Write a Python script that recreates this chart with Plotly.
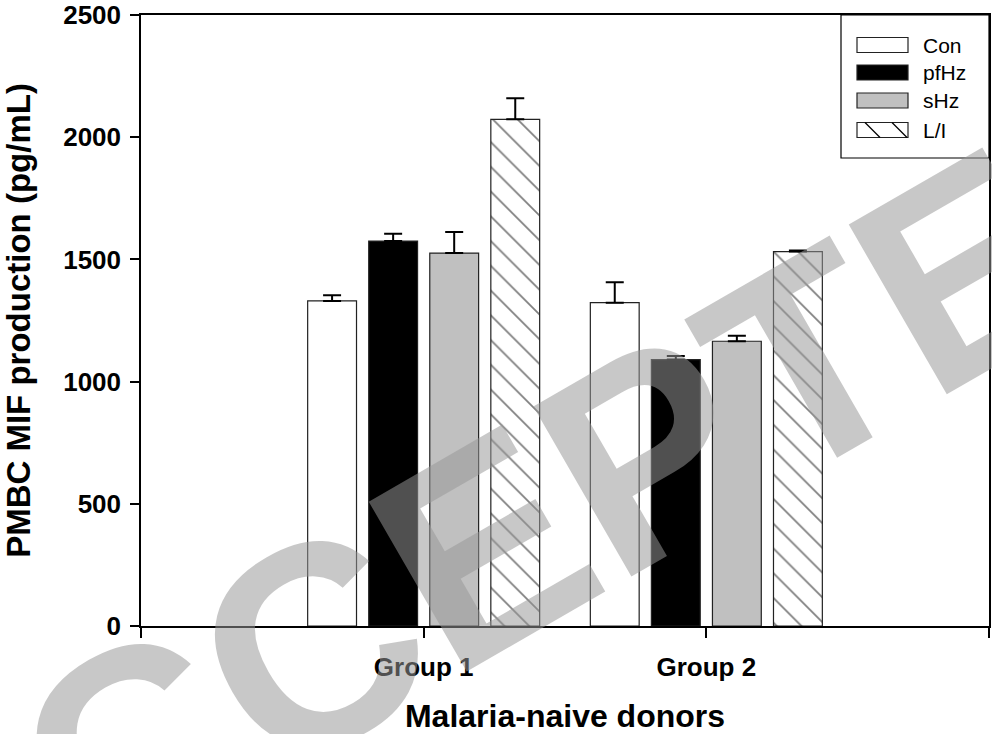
import plotly.graph_objects as go

# ---- data ----
groups = ["Group 1", "Group 2"]
group_pos = [1, 2]
series = ["Con", "pfHz", "sHz", "L/I"]
con = [1330, 1323]
con_err = [23, 83]
pfhz = [1575, 1090]
pfhz_err = [30, 15]
shz = [1526, 1165]
shz_err = [86, 23]
li = [2073, 1532]
li_err = [86, 4]
y_ticks = [0, 500, 1000, 1500, 2000, 2500]

W, H = 992, 734
L, R, T, B = 141, 989, 15, 626


def px(xp):
    return (xp - L) / (R - L)


def py(yp):
    return (B - yp) / (B - T)


FONT = "Liberation Sans, Arial, Helvetica, sans-serif"
outline = dict(color="#222222", width=1.2)
err_style = dict(type="data", symmetric=False, color="black", thickness=2, width=9)

fig = go.Figure()
values = [con, pfhz, shz, li]
errs = [con_err, pfhz_err, shz_err, li_err]
fills = ["white", "black", "#c0c0c0", "white"]
for name, v, e, fc in zip(series, values, errs, fills):
    marker = dict(color=fc, line=outline)
    if name == "L/I":
        marker["pattern"] = dict(shape="\\", size=17.5, solidity=0.1,
                                 fgcolor="black", bgcolor="white", fillmode="overlay")
    fig.add_trace(go.Bar(
        x=group_pos, y=v, name=name, marker=marker,
        error_y=dict(array=e, arrayminus=[0] * len(e), **err_style),
        showlegend=False,
    ))

fig.update_layout(
    width=W, height=H,
    margin=dict(l=L, r=W - R, t=T, b=H - B, autoexpand=False),
    paper_bgcolor="white", plot_bgcolor="white",
    barmode="group", bargap=0.136, bargroupgap=0.2,
    font=dict(family=FONT, color="black"),
)
fig.update_xaxes(
    range=[0, 3], tickvals=[0, 1, 2, 3], ticktext=[""] + groups + [""],
    ticks="outside", ticklen=10, tickwidth=1.5, tickcolor="black",
    showline=True, linecolor="black", linewidth=2, mirror=True,
    showgrid=False, zeroline=False,
    tickfont=dict(size=26, family=FONT, weight="bold"),
    ticklabelstandoff=7,
    title=dict(text="Malaria-naive donors", font=dict(size=32, family=FONT, weight="bold"), standoff=24),
)
fig.update_yaxes(
    range=[0, 2500], tickvals=y_ticks,
    ticks="outside", ticklen=9, tickwidth=1.5, tickcolor="black",
    showline=True, linecolor="black", linewidth=1.5, mirror=True,
    showgrid=False, zeroline=False,
    tickfont=dict(size=26, family=FONT, weight="bold"),
    ticklabelstandoff=4,
    title=dict(text="PMBC MIF production (pg/mL)", font=dict(size=33, family=FONT, weight="bold"), standoff=25),
)

# ---- legend box (drawn manually to match the reference swatches) ----
shapes = []
annotations = []
shapes.append(dict(type="rect", xref="paper", yref="paper", x0=px(841), x1=px(989), y0=py(158), y1=py(15),
                   line=dict(color="black", width=1.2), fillcolor="white", layer="above"))
row_centers = [45, 72.5, 100.5, 130]
sw_x0, sw_x1, sw_h = 857, 908, 15
for name, fc, yc in zip(series, fills, row_centers):
    shapes.append(dict(type="rect", xref="paper", yref="paper",
                       x0=px(sw_x0), x1=px(sw_x1), y0=py(yc + sw_h / 2), y1=py(yc - sw_h / 2),
                       line=dict(color="#222222", width=1.2), fillcolor=fc, layer="above"))
    annotations.append(dict(text=name, xref="paper", yref="paper", x=px(921), y=py(yc),
                            xanchor="left", yanchor="middle", showarrow=False,
                            font=dict(size=21, family=FONT, color="black")))
    if name == "L/I":
        for xs in (865, 892):
            shapes.append(dict(type="line", xref="paper", yref="paper",
                               x0=px(xs), y0=py(yc - sw_h / 2), x1=px(xs + sw_h), y1=py(yc + sw_h / 2),
                               line=dict(color="black", width=1.2), layer="above"))

# ---- watermark ----
annotations.append(dict(text="<b>ACCEPTED</b>", xref="paper", yref="paper", x=px(545), y=py(512),
                        xanchor="center", yanchor="middle", showarrow=False, textangle=-30,
                        font=dict(size=285, family=FONT, color="rgba(151,151,151,0.53)")))

fig.update_layout(shapes=shapes, annotations=annotations)
fig.write_html("out.html")
